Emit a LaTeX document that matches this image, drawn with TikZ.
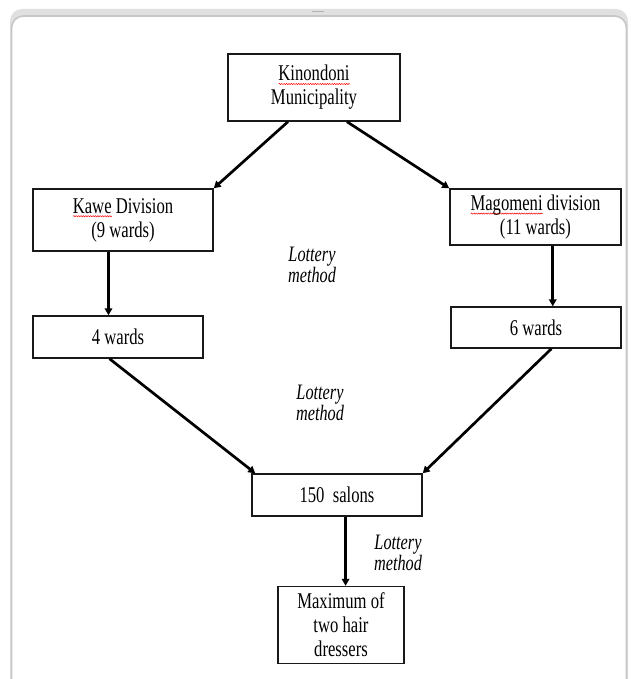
\documentclass[tikz,border=0pt]{standalone}
\usepackage{fontspec}
\setmainfont{Liberation Serif}[FakeStretch=0.74]
\usetikzlibrary{arrows.meta,calc,decorations.pathmorphing}
\newsavebox\spbox
\newcommand\spellmark[1]{\sbox\spbox{#1}\rlap{\raisebox{-4pt}[0pt][0pt]{\tikz[x=1cm,y=1cm]\draw[red, line width=0.5pt, decorate, decoration={snake,amplitude=0.6pt,segment length=2.4pt}] (0,0) -- (\wd\spbox,0);}}\usebox\spbox}
\begin{document}
\begin{tikzpicture}[x=1pt,y=-1pt,
  box/.style={draw=black!90, line width=1.4pt, align=center, inner sep=0pt,
    font=\fontsize{22.5}{24}\selectfont},
  lot/.style={align=center, inner sep=0pt, font=\fontsize{22}{20}\selectfont\itshape},
  arr/.style={line width=2.7pt, -{Triangle[length=7pt,width=7.5pt]}}]
\useasboundingbox (0,0) rectangle (630,679);
% card frame
\fill[black!12, rounded corners=12pt] (10,9) rectangle (628,700);
\fill[white, rounded corners=12pt] (12,16) rectangle (626,700);
\draw[black!22, line width=1.6pt, rounded corners=12pt] (11.5,700) |- (626.5,16) -- (626.5,700);
\fill[black!30] (312,11) rectangle (324,12);
% boxes
\node[box, minimum width=172pt, minimum height=67pt] (top) at (314,87.5) {\spellmark{Kinondoni}\\Municipality};
\node[box, minimum width=180pt, minimum height=62pt] (kawe) at (123,220) {\spellmark{Kawe} Division\\(9 wards)};
\node[box, minimum width=171pt, minimum height=56pt] (mag) at (535.5,217) {\spellmark{Magomeni} division\\(11 wards)};
\node[box, minimum width=170pt, minimum height=42pt] (four) at (118,337) {4 wards};
\node[box, minimum width=170pt, minimum height=41pt] (six) at (536,327.5) {6 wards};
\node[box, minimum width=170pt, minimum height=42pt] (sal) at (337,495) {150\ \ salons};
\node[box, minimum width=126pt, minimum height=77pt] (max) at (341,625) {Maximum of\\two hair\\dressers};
% labels
\node[lot] (l1) at (312,265) {Lottery\\method};
\node[lot] (l2) at (320,403) {Lottery\\method};
\node[lot] (l3) at (398,553) {Lottery\\method};
% connectors
\coordinate (t1) at ($(top.south west)!0.35!(top.south east)$);
\coordinate (t2) at ($(top.south west)!0.69!(top.south east)$);
\draw[arr] (t1) -- (kawe.north east);
\draw[arr] (t2) -- (mag.north west);
\coordinate (k1) at ($(kawe.south west)!0.42!(kawe.south east)$);
\draw[arr] (k1) -- (k1 |- four.north);
\coordinate (m1) at ($(mag.south west)!0.6!(mag.south east)$);
\draw[arr] (m1) -- (m1 |- six.north);
\coordinate (f1) at ($(four.south west)!0.45!(four.south east)$);
\draw[arr] (f1) -- ($(sal.north west)+(4,0)$);
\coordinate (s1) at ($(six.south west)!0.59!(six.south east)$);
\draw[arr] (s1) -- (sal.north east);
\coordinate (sa) at ($(sal.south west)!0.55!(sal.south east)$);
\draw[arr] (sa) -- (sa |- max.north);
\end{tikzpicture}
\end{document}
